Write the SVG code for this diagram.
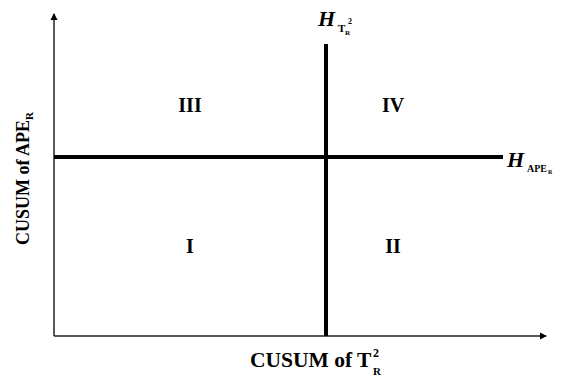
<svg xmlns="http://www.w3.org/2000/svg" width="562" height="382" viewBox="0 0 562 382">
<style>
.t{font-family:"Liberation Serif","Times New Roman",serif;font-weight:bold;fill:#000}
.ax{stroke:#222;stroke-width:1.5;fill:none}
.th{stroke:#000;stroke-width:4;fill:none}
</style>
<defs>
<marker id="ah" markerWidth="8" markerHeight="8" refX="6" refY="4" orient="auto" markerUnits="userSpaceOnUse">
<path d="M0,0.5 L7,4 L0,7.5 Z" fill="#000"/>
</marker>
</defs>
<rect width="562" height="382" fill="#fff"/>
<g id="connectors">
<path class="ax" d="M54,336 V14" marker-end="url(#ah)"/>
<path class="ax" d="M54,336 H546" marker-end="url(#ah)"/>
<path class="th" d="M326,44 V336"/>
<path class="th" d="M54,157 H503"/>
</g>
<g id="xlabel">
<text class="t" x="250" y="367" font-size="21.5">CUSUM of T</text>
<text class="t" x="373" y="357" font-size="12">2</text>
<text class="t" x="373" y="375" font-size="11">R</text>
</g>
<g id="ylabel">
<text class="t" transform="translate(29,245) rotate(-90)" font-size="18">CUSUM of APE<tspan font-size="11" dy="4">R</tspan></text>
</g>
<g id="q3"><text class="t" x="190" y="112" font-size="20" text-anchor="middle">III</text></g>
<g id="q4"><text class="t" x="393" y="112" font-size="20" text-anchor="middle">IV</text></g>
<g id="q1"><text class="t" x="190" y="253" font-size="20" text-anchor="middle">I</text></g>
<g id="q2"><text class="t" x="393" y="253" font-size="20" text-anchor="middle">II</text></g>
<g id="hT">
<text class="t" x="318" y="26" font-size="22" font-style="italic">H</text>
<text class="t" x="338" y="32" font-size="11">T</text>
<text class="t" x="348" y="24" font-size="8">2</text>
<text class="t" x="345" y="35" font-size="7">R</text>
</g>
<g id="hAPE">
<text class="t" x="507" y="167" font-size="22" font-style="italic">H</text>
<text class="t" x="527" y="172" font-size="10">APE</text>
<text class="t" x="548" y="174" font-size="6">R</text>
</g>
</svg>
